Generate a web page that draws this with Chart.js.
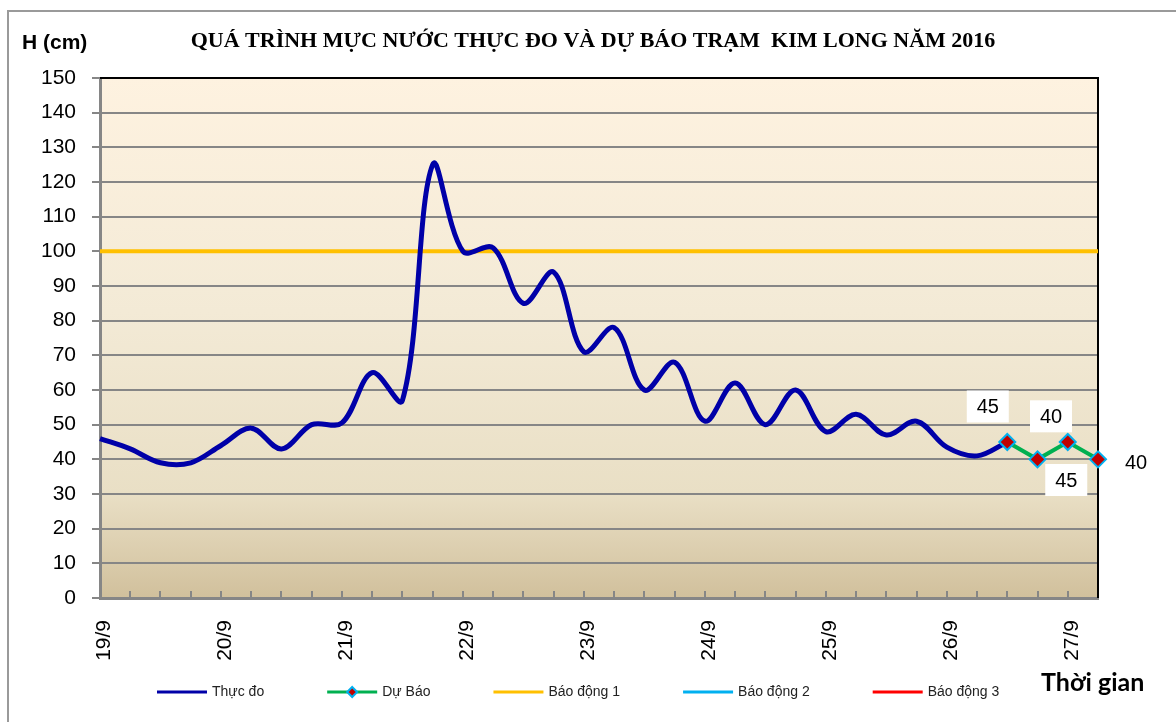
<!DOCTYPE html>
<html><head><meta charset="utf-8">
<script src="https://cdn.jsdelivr.net/npm/chart.js@4.4.0/dist/chart.umd.min.js"></script>
<style>html,body{margin:0;padding:0;background:#fff;} #wrap{width:1176px;height:722px;position:relative;overflow:hidden;}</style>
</head><body><div id="wrap"><canvas id="c" width="1176" height="722"></canvas></div>
<script>
// ---- data ----
const dayLabels = ['19/9','20/9','21/9','22/9','23/9','24/9','25/9','26/9','27/9'];
const slotHours = [0, 6, 12, 18];
const measured = [46,43,39,39,44,49,43,50,50.5,65,57,125,100,101,85,94,71,78,60,68,51,62,50,60,48,53,47,51,43.5,41,45];
const forecast = [45,40,45,40];
const forecastStart = 30;
const alert1 = 100, alert2 = 200, alert3 = 350;
const seriesNames = ['Thực đo','Dự Báo','Báo động 1','Báo động 2','Báo động 3'];
const titleText = 'QUÁ TRÌNH MỰC NƯỚC THỰC ĐO VÀ DỰ BÁO TRẠM  KIM LONG NĂM 2016';
const yAxisLabel = 'H (cm)';
const xAxisLabel = 'Thời gian';

// ---- build ----
const nPoints = forecastStart + forecast.length;
const categories = [];
for (let i = 0; i < nPoints; i++) {
  categories.push(dayLabels[Math.floor(i / 4)] + ' ' + slotHours[i % 4] + 'h');
}
const measuredData = categories.map((_, i) => i < measured.length ? measured[i] : null);
const forecastData = categories.map((_, i) => i >= forecastStart ? forecast[i - forecastStart] : null);
const a1 = categories.map(() => alert1);
const a2 = categories.map(() => alert2);
const a3 = categories.map(() => alert3);

const GRID = '#868686';
const labelOffsets = [[-19.5,-35.5,true],[13.5,-43,true],[-1.5,38,true],[38,3,false]];

function diamond(ctx, mx, my, r) {
  ctx.beginPath();
  ctx.moveTo(mx, my - r); ctx.lineTo(mx + r, my); ctx.lineTo(mx, my + r); ctx.lineTo(mx - r, my); ctx.closePath();
  ctx.fillStyle = '#C00000'; ctx.fill();
  ctx.strokeStyle = '#00B0F0'; ctx.lineWidth = 2; ctx.stroke();
}

const decor = {
  id: 'decor',
  beforeDraw(chart) {
    const ctx = chart.ctx, a = chart.chartArea;
    ctx.save();
    ctx.strokeStyle = '#9a9a9a'; ctx.lineWidth = 2;
    ctx.strokeRect(8, 11, 1400, 900);
    const g = ctx.createLinearGradient(0, a.top, 0, a.bottom);
    g.addColorStop(0, '#FEF2E0');
    g.addColorStop(0.45, '#F3EAD6');
    g.addColorStop(0.8, '#E9DFC5');
    g.addColorStop(1, '#D1C09C');
    ctx.fillStyle = g;
    ctx.fillRect(a.left, a.top, a.right - a.left, a.bottom - a.top);
    ctx.restore();
  },
  beforeDatasetsDraw(chart) {
    const ctx = chart.ctx, a = chart.chartArea, xs = chart.scales.x;
    ctx.save();
    ctx.strokeStyle = GRID; ctx.lineWidth = 2;
    for (let i = 1; i < nPoints - 1; i++) {
      const x = Math.round(xs.getPixelForValue(i));
      ctx.beginPath(); ctx.moveTo(x, a.bottom); ctx.lineTo(x, a.bottom - 7); ctx.stroke();
    }
    ctx.strokeStyle = '#000'; ctx.lineWidth = 2;
    ctx.beginPath(); ctx.moveTo(a.left, a.top); ctx.lineTo(a.right, a.top); ctx.lineTo(a.right, a.bottom); ctx.stroke();
    ctx.restore();
  },
  afterDraw(chart) {
    const ctx = chart.ctx;
    ctx.save();
    ctx.fillStyle = '#000';
    ctx.textBaseline = 'middle';
    ctx.textAlign = 'center';
    ctx.font = 'bold 22px "Liberation Serif"';
    ctx.fillText(titleText, 593, 41);
    ctx.textAlign = 'left';
    ctx.font = 'bold 21px "Liberation Sans"';
    ctx.fillText(yAxisLabel, 22, 43);
    ctx.font = 'bold 25px Lato';
    ctx.fillText(xAxisLabel, 1041, 683);
    // data labels for forecast
    const meta = chart.getDatasetMeta(1);
    ctx.font = '20px "Liberation Sans"';
    ctx.textAlign = 'center';
    forecast.forEach((v, k) => {
      const p = meta.data[forecastStart + k];
      const [dx, dy, box] = labelOffsets[k];
      const cx = p.x + dx, cy = p.y + dy;
      if (box) { ctx.fillStyle = '#fff'; ctx.fillRect(cx - 21, cy - 16, 42, 32); }
      ctx.fillStyle = '#000';
      ctx.fillText(String(v), cx, cy + 1);
    });
    // legend
    ctx.font = '14px "Liberation Sans"';
    ctx.textAlign = 'left';
    let x = 157;
    const ly = 692;
    chart.data.datasets.forEach((ds, i) => {
      ctx.fillStyle = ds.borderColor;
      ctx.fillRect(x, ly - 1.5, 50, 3);
      if (i === 1) diamond(ctx, x + 25, ly, 5);
      ctx.fillStyle = '#222';
      ctx.fillText(ds.label, x + 55, ly);
      x += 55 + ctx.measureText(ds.label).width + 63;
    });
    ctx.restore();
  }
};

new Chart(document.getElementById('c'), {
  type: 'line',
  data: {
    labels: categories,
    datasets: [
      { label: seriesNames[0], data: measuredData, borderColor: '#0000A8', backgroundColor: '#0000A8', borderWidth: 5, pointRadius: 0, tension: 0.35, spanGaps: false },
      { label: seriesNames[1], data: forecastData, borderColor: '#00B050', backgroundColor: '#00B050', borderWidth: 4, tension: 0,
        pointStyle: 'rectRot', pointRadius: 8, pointBackgroundColor: '#C00000', pointBorderColor: '#00B0F0', pointBorderWidth: 2, order: -1 },
      { label: seriesNames[2], data: a1, borderColor: '#FFC000', backgroundColor: '#FFC000', borderWidth: 4, pointRadius: 0 },
      { label: seriesNames[3], data: a2, borderColor: '#00B0F0', backgroundColor: '#00B0F0', borderWidth: 3, pointRadius: 0 },
      { label: seriesNames[4], data: a3, borderColor: '#FF0000', backgroundColor: '#FF0000', borderWidth: 3, pointRadius: 0 }
    ]
  },
  options: {
    responsive: false, animation: false,
    layout: { padding: { left: 0, top: 78, right: 19, bottom: 0 } },
    plugins: {
      title: { display: false },
      tooltip: { enabled: false },
      legend: { display: false }
    },
    scales: {
      x: {
        type: 'category', offset: false,
        grid: { display: false, drawTicks: false },
        border: { display: true, color: GRID, width: 3 },
        ticks: {
          autoSkip: false, maxRotation: 90, minRotation: 90, padding: 22, labelOffset: 4,
          color: '#000', font: { family: 'Liberation Sans', size: 21 },
          callback: (v, i) => (i % 4 === 0 ? dayLabels[i / 4] : '')
        },
        afterFit: (s) => { s.height = 124; }
      },
      y: {
        min: 0, max: 150,
        grid: { color: GRID, lineWidth: 2, tickLength: 8, drawTicks: true },
        border: { display: true, color: GRID, width: 3 },
        ticks: { stepSize: 10, padding: 16, color: '#000', font: { family: 'Liberation Sans', size: 21 } },
        afterFit: (s) => { s.width = 100; }
      },
      y2: {
        position: 'right', display: true,
        grid: { display: false, drawTicks: false },
        border: { display: false },
        ticks: { display: false },
        afterFit: (s) => { s.width = 59; }
      }
    }
  },
  plugins: [decor]
});
</script>
</body></html>
